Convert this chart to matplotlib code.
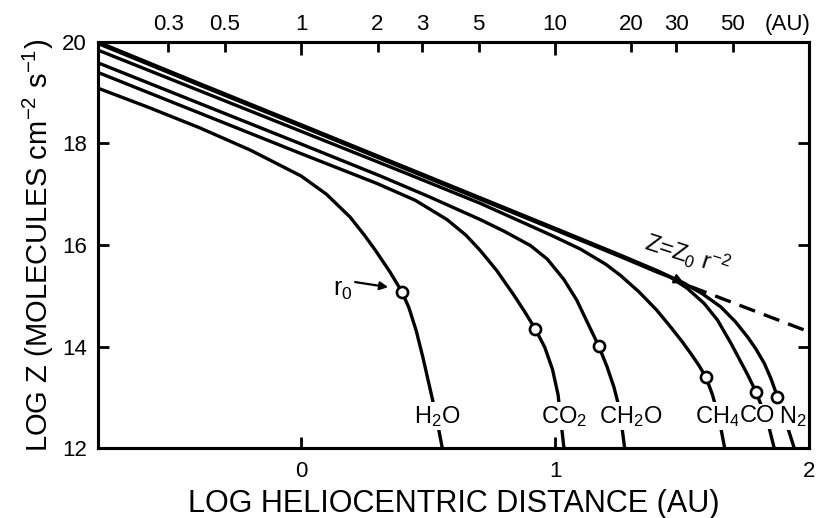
import numpy as np
import matplotlib
matplotlib.use("Agg")
import matplotlib.pyplot as plt
from matplotlib.transforms import blended_transform_factory

plt.rcParams['font.family'] = ['Liberation Sans', 'DejaVu Sans']
plt.rcParams['mathtext.default'] = 'regular'
plt.rcParams['axes.unicode_minus'] = False

# curves: log r (AU) vs log Z
h2o_x = [-0.8, -0.6, -0.4, -0.2, 0.0, 0.1, 0.193, 0.25, 0.292, 0.35, 0.398,
         0.425, 0.454, 0.48, 0.501, 0.53, 0.556]
h2o_z = [19.09, 18.71, 18.31, 17.87, 17.36, 17.0, 16.55, 16.19, 15.9, 15.47, 15.07,
         14.76, 14.3, 13.78, 13.32, 12.68, 12.0]

co2_x = [-0.8, -0.4, 0.0, 0.3, 0.45, 0.575, 0.65, 0.706, 0.77, 0.837, 0.88, 0.923,
         0.96, 0.99, 1.012, 1.035]
co2_z = [19.4, 18.6, 17.8, 17.21, 16.88, 16.5, 16.19, 15.89, 15.5, 15.02, 14.69, 14.34,
         13.98, 13.55, 13.05, 12.0]

ch2o_x = [-0.8, -0.4, 0.0, 0.312, 0.5, 0.706, 0.8, 0.903, 0.97, 1.035, 1.085, 1.127,
          1.172, 1.205, 1.232, 1.255, 1.274]
ch2o_z = [19.59, 18.79, 17.99, 17.36, 16.96, 16.5, 16.27, 15.99, 15.72, 15.32, 14.92, 14.48,
          14.01, 13.6, 13.2, 12.75, 12.0]

ch4_x = [-0.8, -0.4, 0.0, 0.4, 0.706, 0.982, 1.1, 1.2, 1.258, 1.33, 1.4, 1.456, 1.5,
         1.535, 1.565, 1.594, 1.62, 1.645, 1.668]
ch4_z = [19.84, 19.04, 18.24, 17.44, 16.82, 16.2, 15.92, 15.62, 15.4, 15.08, 14.72, 14.38, 14.1,
         13.86, 13.64, 13.4, 13.05, 12.6, 12.0]

co_x = [-0.8, -0.4, 0.0, 0.5, 1.0, 1.258, 1.4, 1.456, 1.52, 1.587, 1.64, 1.692, 1.725,
        1.758, 1.791, 1.82, 1.843, 1.863]
co_z = [19.97, 19.15, 18.34, 17.32, 16.3, 15.77, 15.47, 15.36, 15.15, 14.85, 14.52, 14.07, 13.76,
        13.45, 13.11, 12.74, 12.4, 12.0]

n2_x = [-0.8, -0.4, 0.0, 0.5, 1.0, 1.258, 1.4, 1.508, 1.58, 1.653, 1.71, 1.758, 1.79,
        1.824, 1.85, 1.876, 1.91, 1.942]
n2_z = [20.0, 19.18, 18.37, 17.35, 16.33, 15.8, 15.5, 15.25, 15.04, 14.78, 14.49, 14.19, 13.96,
        13.67, 13.37, 13.01, 12.5, 12.0]

# r0 points (open circles)
r0_x = [0.398, 0.923, 1.172, 1.594, 1.791, 1.876]
r0_z = [15.07, 14.34, 14.01, 13.40, 13.11, 13.01]

# Z = Z0 r^-2 continuation (dashed)
lin_x = [1.535, 2.0]
lin_z = [15.18, 14.29]

mol_labels = ['H$_2$O', 'CO$_2$', 'CH$_2$O', 'CH$_4$', 'CO', 'N$_2$']
mol_label_x = [0.536, 1.034, 1.298, 1.64, 1.797, 1.935]

top_major = [1, 10]
top_minor = [0.3, 0.5, 2, 3, 5, 20, 30, 50]

fig = plt.figure(figsize=(8.16, 5.18), dpi=100)
ax = fig.add_axes([0.120, 0.135, 0.8714, 0.784])

lw = 2.4
for xs, zs in [(h2o_x, h2o_z), (co2_x, co2_z), (ch2o_x, ch2o_z),
               (ch4_x, ch4_z), (co_x, co_z), (n2_x, n2_z)]:
    ax.plot(xs, zs, color='black', lw=lw, solid_capstyle='butt',
            solid_joinstyle='round', zorder=2)

ax.plot(lin_x, lin_z, color='black', lw=lw, ls=(0, (5, 2.8)), zorder=2)

for lab, lx in zip(mol_labels, mol_label_x):
    ax.text(lx, 12.63, lab, ha='center', va='center', fontsize=17,
            bbox=dict(facecolor='white', edgecolor='none', pad=1.0), zorder=3)

ax.plot(r0_x, r0_z, 'o', ms=8, mfc='white', mec='black', mew=1.9, zorder=4)

ax.annotate('', xy=(0.343, 15.17), xytext=(0.213, 15.27),
            arrowprops=dict(arrowstyle='-|>', color='black', lw=1.6,
                            mutation_scale=12, shrinkA=0, shrinkB=0))
ax.text(0.165, 15.12, 'r$_0$', ha='center', va='center', fontsize=18)

ax.annotate('', xy=(1.508, 15.25), xytext=(1.40, 15.5),
            arrowprops=dict(arrowstyle='-|>', color='black', lw=1.6,
                            mutation_scale=14, shrinkA=0, shrinkB=0))
ax.text(1.52, 15.8, 'Z=Z$_0$ r$^{-2}$', ha='center', va='center',
        fontsize=17, rotation=-18)

ax.set_xlim(-0.8, 2.0)
ax.set_ylim(12, 20)
ax.set_xticks([0, 1, 2])
ax.set_xticklabels(['0', '1', '2'])
ax.set_yticks([12, 14, 16, 18, 20])
ax.tick_params(axis='both', direction='in', length=8, width=2, labelsize=16,
               right=True)
ax.tick_params(axis='x', pad=9)
ax.tick_params(axis='y', pad=8)
for s in ax.spines.values():
    s.set_linewidth(2.2)

ax.set_xlabel('LOG HELIOCENTRIC DISTANCE (AU)', fontsize=22, labelpad=5)
ax.set_ylabel('LOG Z (MOLECULES cm$^{-2}$ s$^{-1}$)', fontsize=21, labelpad=4)

ax2 = ax.twiny()
ax2.set_xlim(ax.get_xlim())
ax2.set_xticks(np.log10(top_major))
ax2.set_xticklabels([str(v) for v in top_major])
ax2.set_xticks(np.log10(top_minor), minor=True)
ax2.set_xticklabels([str(v) for v in top_minor], minor=True)
ax2.tick_params(axis='x', which='major', direction='in', length=9.5, width=2,
                labelsize=16, pad=5)
ax2.tick_params(axis='x', which='minor', direction='in', length=7, width=2,
                labelsize=16, pad=5)
for s in ax2.spines.values():
    s.set_linewidth(2.2)

trans = blended_transform_factory(ax.transData, ax.transAxes)
ax.annotate('(AU)', xy=(1.917, 1.0), xycoords=trans, xytext=(0, 5),
            textcoords='offset points', ha='center', va='bottom', fontsize=16)

fig.savefig('out.png', dpi=100)
